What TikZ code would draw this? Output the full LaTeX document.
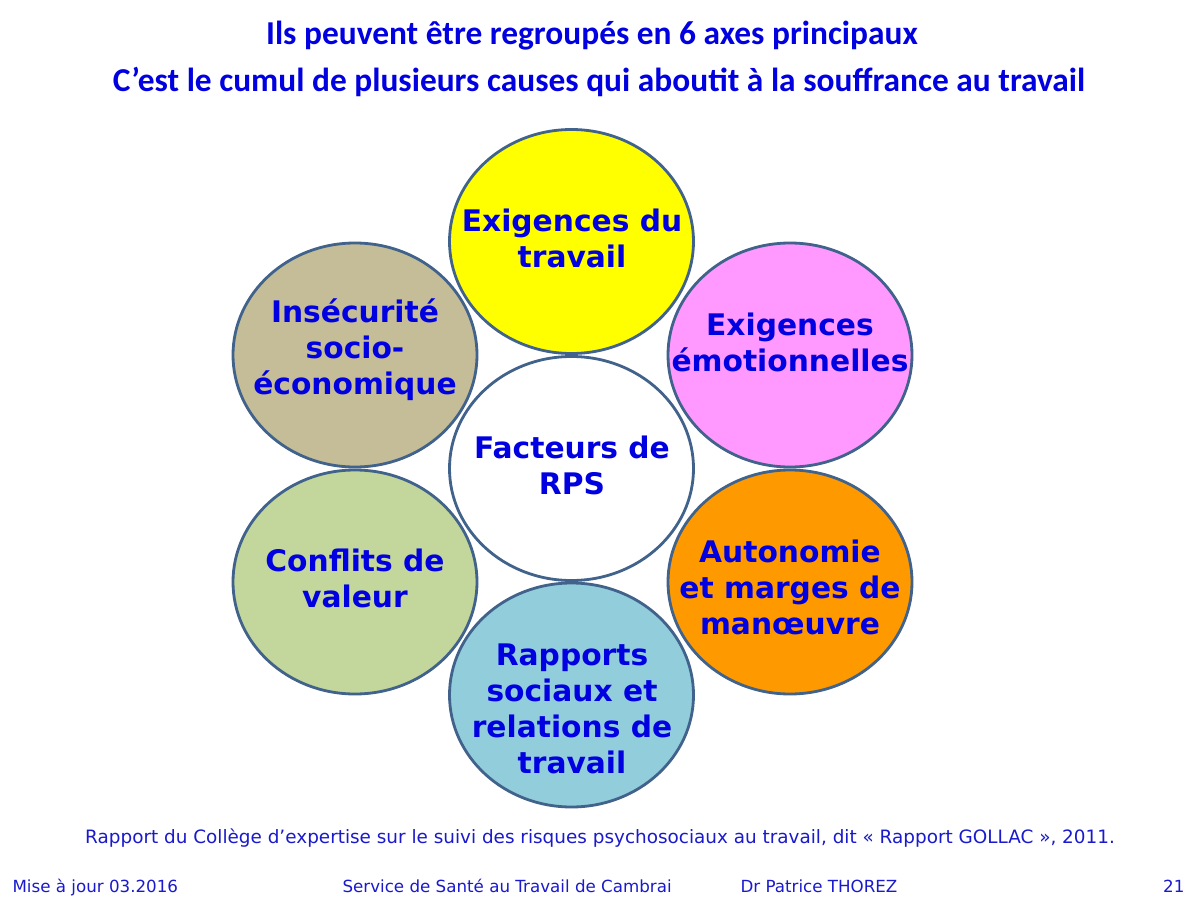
\documentclass[tikz,border=0pt]{standalone}
\usepackage{fontspec}
\setmainfont{DejaVu Sans}
\newfontfamily\titlefont{Carlito}
\usetikzlibrary{shapes.geometric}
\definecolor{bord}{HTML}{40628B}
\definecolor{bleu}{HTML}{0000E0}
\definecolor{bleupied}{HTML}{1A1ACC}
\definecolor{jaune}{HTML}{FFFF00}
\definecolor{rose}{HTML}{FF99FF}
\definecolor{orange}{HTML}{FF9900}
\definecolor{ciel}{HTML}{92CDDC}
\definecolor{vert}{HTML}{C3D69B}
\definecolor{beige}{HTML}{C4BD97}
\begin{document}
\begin{tikzpicture}[x=1pt, y=-1pt,
    bulle/.style={ellipse, draw=bord, line width=2.8pt, minimum width=244pt, minimum height=224pt, inner sep=0pt},
    mot/.style={text=bleu, font=\fontsize{29.7}{36}\selectfont\bfseries, align=center},
    titre/.style={text=bleu, font=\titlefont\fontsize{33.4}{40}\selectfont\bfseries, anchor=base},
    pied/.style={text=bleupied, font=\fontsize{16.7}{20}\selectfont, anchor=base west}]
    \fill[white] (0,0) rectangle (1200,900);

    \node[titre] (titre1) at (592,44) {Ils peuvent être regroupés en 6 axes principaux};
    \node[titre] (titre2) at (599,91) {C’est le cumul de plusieurs causes qui aboutit à la souffrance au travail};

    \foreach \nom/\x/\y/\coul in {rps/571.5/468.5/white, travail/571.5/241.5/jaune,
        emotion/790/355/rose, autonomie/790/582/orange, rapports/571.5/695/ciel,
        valeur/355/582/vert, insecurite/355/355/beige}
      {
        \node[bulle, fill=\coul] (\nom) at (\x,\y) {};
      }

    \node[mot] (t-travail) at (572,238) {Exigences du\\travail};
    \node[mot] (t-emotion) at (790,342) {Exigences\\émotionnelles};
    \node[mot] (t-rps) at (572,465) {Facteurs de\\RPS};
    \node[mot] (t-autonomie) at (790,587) {Autonomie\\et marges de\\manœuvre};
    \node[mot] (t-rapports) at (572,709) {Rapports\\sociaux et\\relations de\\travail};
    \node[mot] (t-valeur) at (355,578) {Conflits de\\valeur};
    \node[mot] (t-insecurite) at (355,350) {Insécurité\\socio-\\économique};

    \node[pied, anchor=base, font=\fontsize{18.4}{22}\selectfont] (source) at (600,843) {Rapport du Collège d’expertise sur le suivi des risques psychosociaux au travail, dit « Rapport GOLLAC », 2011.};
    \node[pied] (maj) at (9,892) {Mise à jour 03.2016};
    \node[pied] (service) at (339,892) {Service de Santé au Travail de Cambrai};
    \node[pied] (docteur) at (737,892) {Dr Patrice THOREZ};
    \node[pied, anchor=base east] (page) at (1188,892) {21};
  \end{tikzpicture}
\end{document}
